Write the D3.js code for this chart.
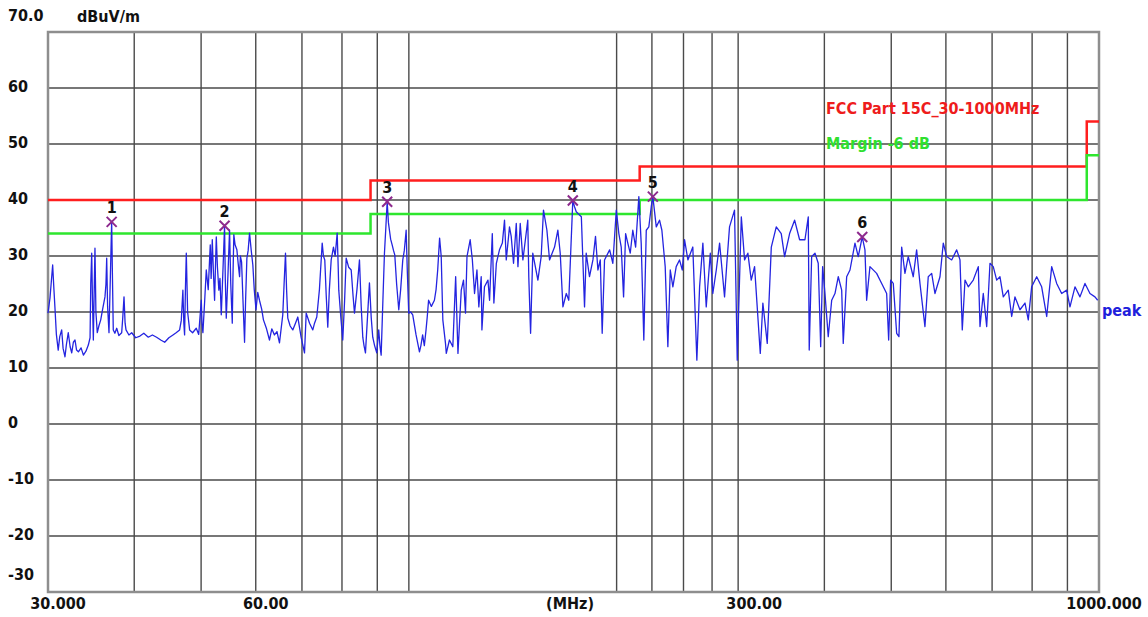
<!DOCTYPE html>
<html>
<head>
<meta charset="utf-8">
<script src="https://cdn.jsdelivr.net/npm/d3@7"></script>
<style>
  body { margin: 0; background: #fff; }
  svg { display: block; }
  text { font-family: "DejaVu Sans Condensed", "DejaVu Sans", sans-serif; font-weight: bold; font-size: 16px; }
</style>
</head>
<body>
<svg id="chart" width="1148" height="617"></svg>
<script>
// axis values
const yTicks = [70, 60, 50, 40, 30, 20, 10, 0, -10, -20, -30];
const yTickLabels = ["70.0", "60", "50", "40", "30", "20", "10", "0", "-10", "-20", "-30"];
const xGridMHz = [40, 50, 60, 70, 80, 90, 100, 200, 225, 250, 275, 300, 400, 500, 600, 700, 800, 900];
const xTickMHz = [30, 60, 300, 1000];
const xTickLabels = ["30.000", "60.00", "300.00", "1000.000"];

// FCC Part 15C limit and -6 dB margin (step after each frequency)
const limitMHz = [30, 88, 216, 960, 1000];
const limitLevel = [40, 43.5, 46, 54, 54];
const marginLevel = [34, 37.5, 40, 48, 48];

// marked peaks
const markerIds = ["1", "2", "3", "4", "5", "6"];
const markerMHz = [37.1, 54.07, 93.02, 172.8, 225.7, 453.9];
const markerLevel = [36.1, 35.4, 39.7, 39.9, 40.6, 33.4];

// peak trace [MHz, dBuV/m]
const peakTrace = [
  [30.0, 19.8], [30.2, 22.5], [30.47, 28.4], [30.6, 24.0], [30.7, 20.9], [30.85, 16.0], [31.04, 13.2],
  [31.2, 15.6], [31.4, 16.8], [31.55, 13.5], [31.75, 12.0], [31.9, 14.2], [32.1, 16.3], [32.3, 13.8],
  [32.47, 12.7], [32.65, 14.6], [32.83, 15.0], [33.0, 13.2], [33.2, 12.9], [33.5, 13.6], [33.76, 12.3],
  [34.05, 13.0], [34.32, 14.1], [34.52, 15.4], [34.6, 25.0], [34.71, 30.5], [34.8, 22.0],
  [34.9, 15.0], [35.0, 24.0], [35.09, 31.4], [35.2, 20.0], [35.36, 16.3], [35.55, 17.5], [35.77, 18.6],
  [36.0, 20.5], [36.28, 22.7], [36.4, 25.0], [36.49, 29.6], [36.6, 21.0], [36.77, 16.3], [36.95, 27.0],
  [37.1, 36.1], [37.2, 26.0], [37.3, 16.8], [37.5, 16.2], [37.73, 17.1], [38.0, 15.8], [38.36, 16.3],
  [38.5, 19.0], [38.66, 22.7], [38.8, 18.0], [38.92, 16.8], [39.3, 15.9], [39.66, 16.3], [40.2, 15.4],
  [40.77, 15.7], [41.3, 16.2], [41.92, 15.5], [42.5, 15.9], [43.1, 15.5], [43.7, 15.0], [44.28, 14.6],
  [44.9, 15.4], [45.52, 15.9], [46.0, 16.3], [46.54, 16.8], [46.8, 18.5], [47.05, 23.9],
  [47.2, 18.0], [47.32, 15.9], [47.45, 24.0], [47.59, 30.5], [47.8, 20.0], [48.12, 16.8], [48.6, 16.3],
  [49.2, 17.1], [49.6, 16.0], [50.03, 22.1], [50.15, 18.0], [50.3, 16.3], [50.6, 22.0], [50.87, 27.5],
  [51.2, 24.0], [51.55, 32.0], [51.7, 26.0], [51.9, 32.9], [52.1, 27.0], [52.3, 22.1], [52.45, 28.0],
  [52.6, 33.4], [52.8, 28.0], [53.05, 23.9], [53.25, 26.0], [53.48, 19.5], [53.8, 28.0], [54.07, 35.4],
  [54.2, 26.0], [54.38, 18.9], [54.7, 27.0], [54.98, 34.6], [55.2, 25.0], [55.48, 18.0], [55.6, 26.0],
  [55.77, 33.8], [56.0, 32.0], [56.34, 31.1], [56.6, 28.5], [56.85, 26.3], [57.0, 30.0], [57.23, 28.9],
  [57.5, 22.0], [57.8, 14.6], [58.0, 22.0], [58.25, 29.6], [58.5, 31.0], [58.77, 34.1], [59.1, 31.0],
  [59.42, 28.4], [59.7, 24.0], [60.05, 20.4], [60.4, 23.5], [60.75, 22.1], [61.2, 20.5], [61.56, 18.6],
  [62.2, 17.0], [62.81, 15.0], [63.3, 17.0], [63.86, 15.9], [64.4, 16.5], [64.94, 14.5], [65.3, 17.0],
  [65.66, 19.5], [65.95, 25.0], [66.26, 30.5], [66.5, 24.0], [66.77, 18.9], [67.3, 17.5], [67.89, 16.8],
  [68.5, 18.0], [69.04, 19.1], [69.8, 15.5], [70.6, 12.7], [71.0, 19.8], [71.8, 18.0], [72.58, 16.8],
  [73.0, 18.0], [73.55, 19.1], [74.2, 24.0], [74.89, 32.3], [75.2, 30.0], [75.54, 29.3], [75.9, 23.0],
  [76.3, 17.3], [76.7, 24.0], [77.17, 29.3], [77.76, 31.6], [78.2, 30.0], [78.73, 34.1], [79.0, 28.0],
  [79.15, 23.9], [79.7, 19.0], [80.21, 15.0], [80.7, 22.0], [81.13, 29.6], [81.8, 28.0], [82.5, 27.5],
  [83.0, 23.0], [83.41, 19.8], [84.1, 24.0], [84.81, 29.3], [85.3, 21.0], [85.75, 15.5], [86.1, 14.0],
  [86.52, 12.7], [87.1, 19.0], [87.68, 25.2], [88.2, 19.0], [88.65, 15.5], [89.2, 14.0], [89.84, 12.7],
  [90.44, 16.8], [90.8, 14.0], [91.17, 12.3], [91.7, 22.0], [92.18, 30.5], [92.6, 35.0], [93.02, 39.7],
  [93.4, 36.0], [93.73, 34.6], [94.1, 33.0], [94.58, 32.0], [95.0, 31.0], [95.41, 30.2], [96.0, 25.0],
  [96.69, 20.4], [97.3, 24.0], [97.99, 29.3], [98.5, 31.0], [99.1, 34.6], [99.5, 27.0], [99.96, 19.8],
  [100.6, 20.0], [101.3, 19.5], [102.4, 16.0], [103.6, 12.9], [104.1, 14.0], [104.7, 15.9], [105.3, 14.0],
  [105.9, 16.8], [106.3, 19.0], [106.8, 22.1], [107.8, 21.0], [108.9, 22.1], [109.5, 24.0], [110.1, 27.5],
  [110.8, 33.2], [111.4, 29.9], [112.0, 18.6], [113.0, 14.4], [113.3, 12.6], [114.5, 15.0], [115.8, 13.8],
  [116.9, 26.3], [117.8, 12.6], [119.1, 23.9], [120.0, 25.7], [120.8, 19.8], [121.4, 29.9], [122.7, 32.9],
  [123.6, 29.3], [124.5, 23.3], [125.5, 27.5], [126.3, 20.9], [127.3, 26.3], [127.6, 16.8], [128.7, 24.5],
  [130.2, 25.7], [130.9, 22.1], [132.1, 34.0], [132.8, 21.6], [133.9, 28.7], [135.3, 31.1], [136.6, 32.3],
  [137.6, 36.4], [138.4, 29.3], [139.9, 35.2], [140.7, 33.5], [141.8, 28.7], [143.1, 35.8], [143.9, 28.1],
  [145.0, 35.8], [146.3, 29.3], [148.7, 36.4], [149.2, 26.3], [150.1, 16.2], [151.2, 30.5], [153.8, 25.7],
  [155.5, 29.9], [156.7, 38.2], [158.5, 34.6], [159.9, 29.3], [162.6, 31.6], [164.4, 34.6], [165.7, 30.5],
  [167.2, 20.9], [169.1, 23.3], [170.5, 22.1], [172.5, 37.6], [172.8, 39.9], [173.8, 38.8], [174.8, 37.9],
  [177.8, 37.0], [179.7, 20.9], [180.7, 30.5], [182.7, 26.3], [184.8, 29.3], [186.4, 33.5], [187.9, 27.5],
  [189.4, 29.3], [190.6, 16.2], [192.1, 29.3], [195.4, 31.1], [197.5, 28.7], [199.8, 38.2], [201.5, 34.0],
  [203.1, 31.6], [204.7, 22.7], [206.1, 34.0], [207.6, 32.3], [209.3, 30.5], [211.1, 34.6], [213.1, 31.6],
  [215.4, 40.6], [217.1, 32.3], [219.0, 15.0], [220.8, 34.6], [222.7, 35.2], [224.5, 38.8], [225.7, 40.6],
  [228.3, 35.2], [230.8, 36.4], [232.6, 34.6], [235.2, 28.1], [237.3, 13.8], [239.2, 27.5], [241.3, 24.5],
  [244.0, 28.1], [246.7, 29.3], [249.0, 27.5], [250.9, 32.9], [253.7, 29.3], [257.9, 31.6], [261.4, 11.4],
  [263.8, 24.5], [266.7, 32.3], [269.7, 20.9], [273.4, 30.5], [275.7, 23.3], [278.9, 27.5], [282.0, 32.3],
  [286.7, 22.7], [288.9, 28.7], [291.5, 35.2], [296.4, 38.2], [299.1, 11.4], [303.2, 37.0], [306.5, 29.3],
  [309.9, 30.5], [313.4, 25.7], [316.9, 28.1], [323.0, 12.6], [325.8, 21.6], [330.6, 14.4], [335.1, 31.6],
  [340.7, 35.2], [346.4, 34.0], [350.3, 29.9], [356.2, 34.0], [362.2, 36.4], [368.3, 32.9],
  [374.9, 32.9], [379.1, 37.0], [380.3, 13.2], [383.4, 29.9], [387.7, 30.5], [391.9, 28.7], [395.1, 13.8],
  [397.7, 28.1], [400.8, 23.3], [405.2, 15.6], [409.9, 22.1], [414.4, 23.3], [419.0, 26.3], [423.8, 23.9],
  [426.0, 14.4], [430.9, 26.3], [435.7, 27.5], [443.0, 32.3], [447.9, 29.9], [453.9, 33.4], [458.0, 31.1],
  [460.6, 22.1], [465.7, 28.1], [476.2, 26.9], [484.3, 25.1], [492.4, 23.3], [495.7, 15.0], [499.0, 25.7],
  [503.4, 25.1], [509.1, 16.2], [513.0, 15.6], [517.7, 31.6], [523.4, 26.9], [529.2, 29.9], [538.1, 26.3],
  [544.2, 31.1], [550.3, 25.1], [559.5, 17.4], [565.7, 26.3], [572.2, 26.9], [578.5, 23.3], [588.3, 26.3],
  [594.8, 32.3], [601.5, 29.9], [611.7, 29.3], [622.0, 31.1], [628.9, 29.3], [633.7, 16.8], [639.5, 25.7],
  [646.5, 24.5], [657.4, 25.7], [668.5, 28.1], [672.3, 17.4], [679.7, 23.3], [687.5, 17.4], [695.1, 28.7],
  [702.7, 28.1], [710.8, 25.7], [718.6, 26.3], [726.6, 22.7], [738.8, 23.9], [747.3, 19.2], [755.5, 22.7],
  [768.2, 20.4], [781.2, 21.6], [789.8, 18.6], [798.8, 24.5], [812.3, 26.3], [825.9, 24.5], [839.9, 19.2],
  [854.0, 28.1], [868.3, 25.1], [882.9, 23.3], [897.7, 23.9], [907.7, 20.9], [923.0, 24.5], [938.5, 22.7],
  [954.3, 25.1], [970.3, 23.3], [986.6, 22.7], [995.6, 22.1]
];

const svg = d3.select("#chart");
const plotL = 48, plotR = 1099, plotT = 32, plotB = 592;

const x = d3.scaleLog().domain([30, 1000]).range([plotL, plotR]);
const y = d3.scaleLinear().domain([-30, 70]).range([plotB, plotT]);

// grid
svg.append("g")
  .selectAll("line")
  .data(yTicks.slice(1, -1))
  .join("line")
  .attr("x1", plotL).attr("x2", plotR)
  .attr("y1", d => y(d)).attr("y2", d => y(d))
  .attr("stroke", "#4a4a4a").attr("stroke-width", 1.4);

svg.append("g")
  .selectAll("line")
  .data(xGridMHz)
  .join("line")
  .attr("x1", d => x(d)).attr("x2", d => x(d))
  .attr("y1", plotT).attr("y2", plotB)
  .attr("stroke", "#4a4a4a").attr("stroke-width", 1.4);

svg.append("rect")
  .attr("x", plotL).attr("y", plotT)
  .attr("width", plotR - plotL).attr("height", plotB - plotT)
  .attr("fill", "none").attr("stroke", "#8e8e8e").attr("stroke-width", 2.5);

// limit + margin
const stepLine = d3.line().curve(d3.curveStepAfter);
svg.append("path")
  .attr("d", stepLine(limitMHz.map((f, i) => [x(f), y(limitLevel[i])])))
  .attr("fill", "none").attr("stroke", "#ff1e1e").attr("stroke-width", 2.5);
svg.append("path")
  .attr("d", stepLine(limitMHz.map((f, i) => [x(f), y(marginLevel[i])])))
  .attr("fill", "none").attr("stroke", "#2ee62e").attr("stroke-width", 2.5);

// peak trace
const traceLine = d3.line().x(d => x(d[0])).y(d => y(d[1]));
svg.append("path")
  .datum(peakTrace)
  .attr("d", traceLine)
  .attr("fill", "none").attr("stroke", "#2424e0").attr("stroke-width", 1.3)
  .attr("stroke-linejoin", "round");

// markers
const marks = svg.append("g")
  .selectAll("g")
  .data(markerIds)
  .join("g")
  .attr("transform", (d, i) => `translate(${x(markerMHz[i])},${y(markerLevel[i])})`);
marks.append("path")
  .attr("d", "M-5,-5L5,5M-5,5L5,-5")
  .attr("stroke", "#8e2a8e").attr("stroke-width", 2);
marks.append("text")
  .attr("y", -9)
  .attr("text-anchor", "middle")
  .attr("fill", "#111")
  .text(d => d);

// y labels
svg.append("g")
  .selectAll("text")
  .data(yTicks)
  .join("text")
  .attr("x", 8)
  .attr("y", (d, i) => y(d) + 5 - (i === 0 ? 16 : i === yTicks.length - 1 ? 17 : 1))
  .attr("fill", "#111")
  .text((d, i) => yTickLabels[i]);

svg.append("text").attr("x", 77).attr("y", 22).attr("fill", "#111").text("dBuV/m");

// x labels
const xNudge = [10, 10, 16, 5];
svg.append("g")
  .selectAll("text")
  .data(xTickMHz)
  .join("text")
  .attr("x", (d, i) => x(d) + xNudge[i])
  .attr("y", 609)
  .attr("text-anchor", "middle")
  .attr("fill", "#111")
  .text((d, i) => xTickLabels[i]);

svg.append("text").attr("x", 570).attr("y", 609).attr("text-anchor", "middle").attr("fill", "#111").text("(MHz)");

// legend
svg.append("text").attr("x", 826).attr("y", 114).attr("fill", "#ee1c1c").text("FCC Part 15C_30-1000MHz");
svg.append("text").attr("x", 826).attr("y", 149).attr("fill", "#2fe02f").text("Margin -6 dB");
svg.append("text").attr("x", 1102).attr("y", 316).attr("fill", "#1f1fdc").text("peak");
</script>
</body>
</html>
